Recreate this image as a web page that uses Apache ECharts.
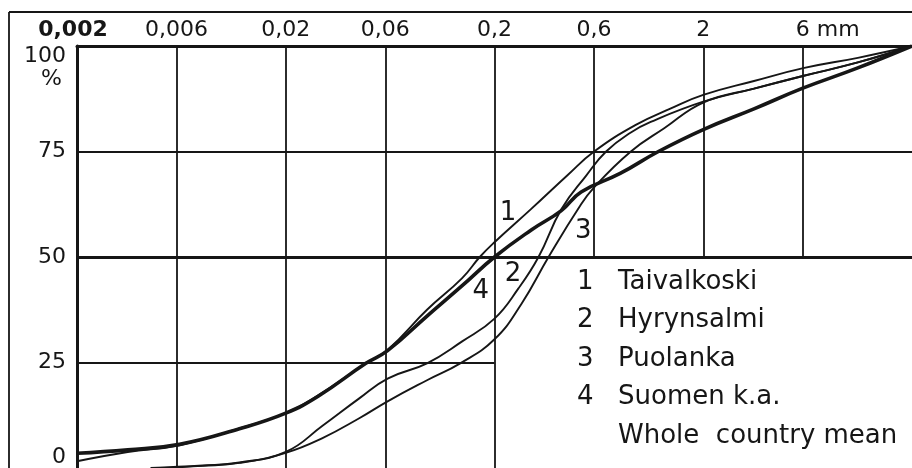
<!DOCTYPE html>
<html><head><meta charset="utf-8">
<script src="https://cdn.jsdelivr.net/npm/echarts@6/dist/echarts.min.js"></script>
<style>html,body{margin:0;padding:0;background:#fff;}#c{width:912px;height:468px;}</style>
</head><body><div id="c"></div>
<script>
const FONT = '"DejaVu Sans", "Liberation Sans", sans-serif';
const INK = '#161616';

// axis ticks
const sizeTicks = [0.002, 0.006, 0.02, 0.06, 0.2, 0.6, 2, 6];
const sizeTickLabels = ['0,002', '0,006', '0,02', '0,06', '0,2', '0,6', '2', '6 mm'];
const fullGridSizes = [0.006, 0.02, 0.06, 0.2];   // vertical lines 0..100 %
const upperGridSizes = [0.6, 2, 6];               // vertical lines 50..100 %
const hGridPct = [75, 50, 25];
const hGridEndMm = [20, 20, 0.2];

// series (grain size mm, cumulative %)
const names = ['Taivalkoski', 'Hyrynsalmi', 'Puolanka', 'Suomen k.a.'];
const mm1 = [0.002, 0.0035, 0.0062, 0.012, 0.02, 0.0286, 0.0484, 0.0615, 0.095, 0.14, 0.17, 0.2, 0.3, 0.45, 0.6, 0.95, 1.4, 2.0, 3.5, 6.1, 11, 20];
const pct1 = [1.6, 3.8, 5.4, 9.4, 13, 17.2, 24.8, 28, 37.5, 45, 50, 53.5, 61.4, 69.5, 75, 81.3, 85.2, 88.4, 91.7, 94.8, 97.2, 100];
const mm2 = [0.0045, 0.008, 0.012, 0.02, 0.03, 0.045, 0.0615, 0.095, 0.14, 0.2, 0.26, 0.325, 0.418, 0.55, 0.685, 0.9, 1.12, 2.0, 3.5, 6.0, 11, 20];
const pct2 = [0, 0.6, 1.3, 3.8, 10, 16.5, 21.2, 24.8, 30, 35.4, 42.5, 50, 61.3, 69.3, 75, 79.5, 82, 86.8, 89.9, 92.9, 96.1, 100];
const mm3 = [0.005, 0.008, 0.012, 0.02, 0.03, 0.045, 0.0615, 0.095, 0.137, 0.2, 0.27, 0.363, 0.509, 0.6, 0.9, 1.3, 2.0, 3.5, 6.0, 11, 20];
const pct3 = [0, 0.5, 1.2, 3.6, 7.1, 11.8, 15.8, 20.8, 24.8, 30.5, 39, 50, 61.8, 66.5, 75, 80.5, 86.6, 89.9, 92.9, 96.1, 100];
const mm4 = [0.002, 0.0035, 0.0062, 0.012, 0.02, 0.0286, 0.0484, 0.0615, 0.095, 0.14, 0.2, 0.3, 0.418, 0.52, 0.8, 1.22, 2.0, 3.5, 6.0, 11, 20];
const pct4 = [3.5, 4.3, 5.6, 9.3, 13, 17, 24.8, 27.8, 36, 43.2, 50, 56.4, 61, 65.4, 69.8, 75, 80.2, 85.1, 90, 94.8, 100];

// curve number annotations
const curveTagText = ['1', '2', '3', '4'];
const curveTagMm = [0.232, 0.245, 0.532, 0.172];
const curveTagPct = [60.4, 45.8, 56.1, 42];

// legend rows
const legendNums = ['1', '2', '3', '4', ''];
const legendTexts = ['Taivalkoski', 'Hyrynsalmi', 'Puolanka', 'Suomen k.a.', 'Whole  country mean'];

const zip = (xs, ys) => xs.map((x, i) => [x, ys[i]]);
const curves = [zip(mm1, pct1), zip(mm2, pct2), zip(mm3, pct3), zip(mm4, pct4)];

const gridLine = (w) => ({ color: INK, width: w, type: 'solid' });
const markSegs = [];
fullGridSizes.forEach(v => markSegs.push([{ coord: [v, 0], lineStyle: gridLine(1.8) }, { coord: [v, 100] }]));
upperGridSizes.forEach(v => markSegs.push([{ coord: [v, 50], lineStyle: gridLine(1.8) }, { coord: [v, 100] }]));
hGridPct.forEach((p, i) => markSegs.push([{ coord: [0.002, p], lineStyle: gridLine(p === 50 ? 3 : 2) }, { coord: [hGridEndMm[i], p] }]));

const lineSeries = curves.map((d, i) => ({
  type: 'line', name: names[i], data: d, showSymbol: false, symbol: 'none',
  smooth: 0.45, clip: true, z: 5,
  lineStyle: { color: INK, width: i === 3 ? 3.6 : 1.9 },
  itemStyle: { color: INK }
}));

const legendGraphics = [];
legendTexts.forEach((t, i) => {
  const y = 282 + i * 38.5;
  if (legendNums[i]) legendGraphics.push({ type: 'text', silent: true, style: { text: legendNums[i], x: 577, y: y, verticalAlign: 'middle', font: '26px ' + FONT, fill: INK } });
  legendGraphics.push({ type: 'text', silent: true, style: { text: t, x: 618, y: y, verticalAlign: 'middle', font: '26px ' + FONT, fill: INK } });
});

const plainLabel = { textBorderWidth: 0, textBorderColor: 'transparent', textShadowBlur: 0, opacity: 1 };

const chart = echarts.init(document.getElementById('c'), null, { renderer: 'canvas' });
chart.setOption({
  animation: false,
  backgroundColor: '#ffffff',
  textStyle: { fontFamily: FONT },
  grid: { left: 77, top: 46, width: 841, height: 424 },
  xAxis: {
    type: 'log', logBase: 10, min: 0.002, max: 20, position: 'top',
    axisLine: { show: true, onZero: false, lineStyle: { color: INK, width: 3 } },
    axisTick: { show: false }, axisLabel: { show: false }, splitLine: { show: false }
  },
  yAxis: {
    type: 'value', min: 0, max: 100, interval: 25,
    axisLine: { show: true, onZero: false, lineStyle: { color: INK, width: 3 } },
    axisTick: { show: false }, splitLine: { show: false },
    axisLabel: {
      color: INK, fontSize: 22, fontFamily: FONT, margin: 11,
      verticalAlignMaxLabel: 'top', verticalAlignMinLabel: 'bottom',
      formatter: v => v === 100 ? '{a|100}\n{p|%}' : String(v),
      rich: {
        a: { fontSize: 22, lineHeight: 20, fontFamily: FONT, color: INK },
        p: { fontSize: 22, lineHeight: 26, fontFamily: FONT, color: INK, padding: [0, 4, 0, 0] }
      }
    }
  },
  graphic: [
    { type: 'line', shape: { x1: 9, y1: 12, x2: 912, y2: 12 }, style: { stroke: INK, lineWidth: 1.8 }, silent: true },
    { type: 'line', shape: { x1: 9, y1: 12, x2: 9, y2: 468 }, style: { stroke: INK, lineWidth: 1.8 }, silent: true },
    ...legendGraphics
  ],
  series: [
    {
      type: 'scatter', name: 'ticks', clip: false, silent: true, symbolSize: 1,
      itemStyle: { color: 'rgba(0,0,0,0)' },
      data: sizeTicks.map((v, i) => {
        const item = { value: [v, 100] };
        if (i === 0) item.label = { fontWeight: 'bold', offset: [-4, -16] };
        if (i === sizeTicks.length - 1) item.label = { align: 'left', offset: [-7, -16] };
        return item;
      }),
      label: Object.assign({
        show: true, position: 'inside', offset: [0, -16], color: INK, fontSize: 22, fontFamily: FONT,
        formatter: p => sizeTickLabels[p.dataIndex]
      }, plainLabel),
      markLine: { silent: true, symbol: ['none', 'none'], label: { show: false }, animation: false, data: markSegs },
      z: 3
    },
    ...lineSeries,
    {
      type: 'scatter', name: 'tags', clip: false, silent: true, symbolSize: 1,
      itemStyle: { color: 'rgba(0,0,0,0)' },
      data: curveTagMm.map((v, i) => [v, curveTagPct[i]]),
      label: Object.assign({
        show: true, position: 'inside', color: INK, fontSize: 26, fontFamily: FONT,
        formatter: p => curveTagText[p.dataIndex]
      }, plainLabel),
      z: 6
    }
  ]
});
</script></body></html>
